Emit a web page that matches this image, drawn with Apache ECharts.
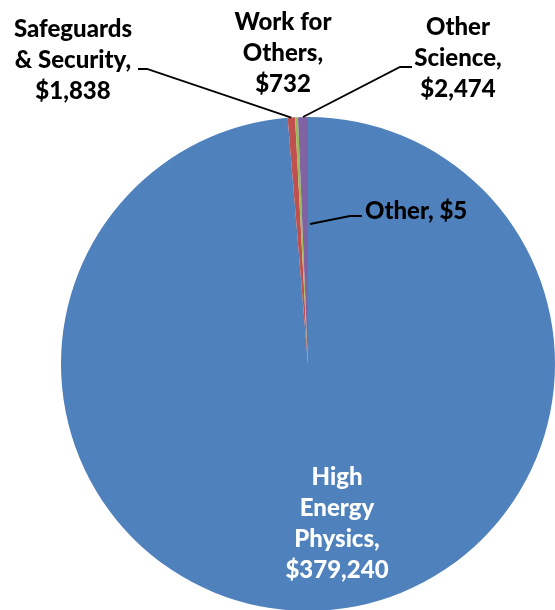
<!DOCTYPE html>
<html>
<head>
<meta charset="utf-8">
<script src="https://cdn.jsdelivr.net/npm/echarts@6/dist/echarts.min.js"></script>
<style>
html,body{margin:0;padding:0;background:#fff;}
#main{width:555px;height:610px;}
</style>
</head>
<body>
<div id="main"></div>
<script>
const categories = ['High Energy Physics', 'Safeguards & Security', 'Work for Others', 'Other Science', 'Other'];
const labelNames = ['High\nEnergy\nPhysics,', 'Safeguards\n& Security,', 'Work for\nOthers,', 'Other\nScience,', 'Other,'];
const values = [379240, 1838, 732, 2474, 5];
const colors = ['#4F81BD', '#C0504D', '#9BBB59', '#8064A2', '#4BACC6'];

// label placement (layout only)
const CX = 308, CY = 364, R = 247;
const labelPos = [
  {x: 337, y: 524, align: 'center'},
  {x: 73, y: 60, align: 'center'},
  {x: 283, y: 53, align: 'center'},
  {x: 458, y: 58, align: 'center'},
  {x: 365, y: 211, align: 'left'}
];

const chart = echarts.init(document.getElementById('main'));
const fmt = v => '$' + v.toLocaleString('en-US');

const base = {
  type: 'pie',
  center: [CX, CY],
  radius: [0, R],
  startAngle: 90,
  clockwise: true,
  avoidLabelOverlap: false,
  minShowLabelAngle: 0,
  emphasis: {disabled: true},
  silent: true
};

chart.setOption({
  animation: false,
  series: [
    Object.assign({}, base, {
      z: 1,
      data: categories.map((c, i) => ({name: c, value: values[i], itemStyle: {color: colors[i]}})),
      itemStyle: {borderWidth: 0},
      label: {show: false},
      labelLine: {show: false}
    }),
    Object.assign({}, base, {
      z: 5,
      data: categories.map((c, i) => ({
        name: c,
        value: values[i],
        itemStyle: {color: 'rgba(0,0,0,0)'},
        label: {
          color: i === 0 ? '#ffffff' : '#000000',
          position: i === 0 ? 'inside' : 'outside'
        },
        labelLine: {show: i !== 0 && i !== 2}
      })),
      itemStyle: {borderWidth: 0},
      label: {
        show: true,
        fontFamily: 'Lato',
        fontWeight: 900,
        fontSize: 24,
        lineHeight: 31,
        align: 'center',
        formatter: p => labelNames[p.dataIndex] + (p.dataIndex === 4 ? ' ' : '\n') + fmt(p.value)
      },
      labelLine: {
        show: true,
        length: 20,
        length2: 10,
        lineStyle: {color: '#000000', width: 1.8}
      },
      labelLayout: function (params) {
        const i = params.dataIndex;
        const lp = labelPos[i];
        const out = {x: lp.x, y: lp.y, align: lp.align, verticalAlign: 'middle'};
        const pts = params.labelLinePoints;
        const p0 = (pts && pts.length) ? pts[0] : null;
        if (i === 1 && p0) {
          out.labelLinePoints = [p0, [147, 69], [138, 69]];
        } else if (i === 3 && p0) {
          out.labelLinePoints = [p0, [400, 67], [412, 67]];
        } else if (i === 4) {
          out.labelLinePoints = [[310, 224], [350, 216], [362, 216]];
        }
        return out;
      }
    })
  ]
});
</script>
</body>
</html>
